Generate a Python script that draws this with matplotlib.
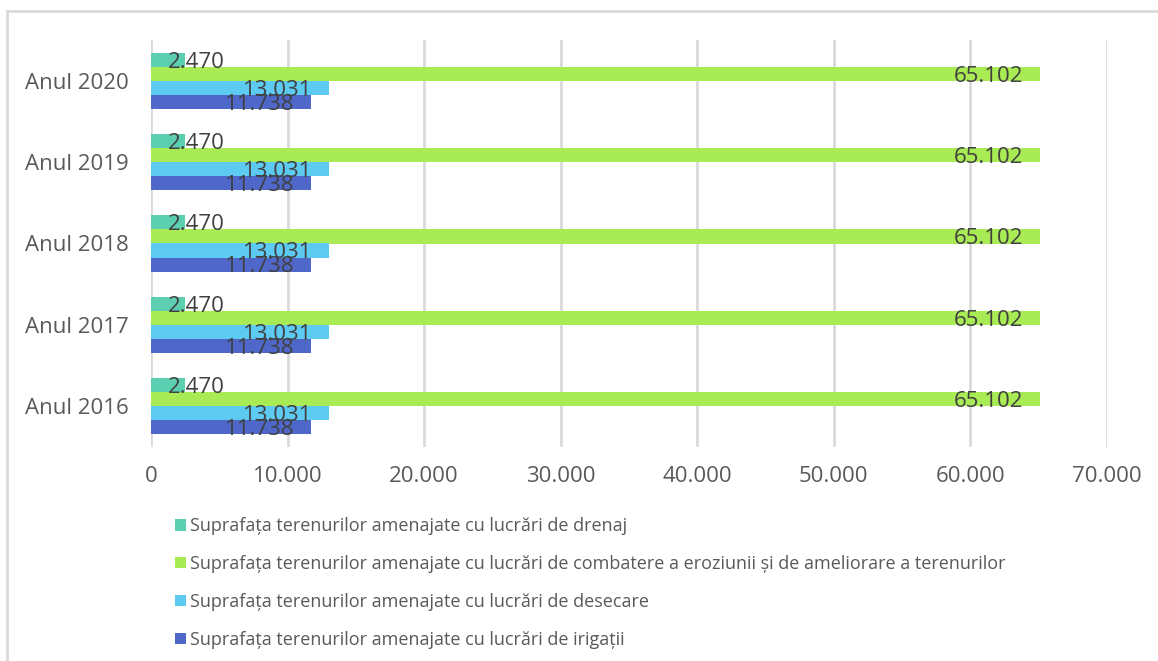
import numpy as np
import matplotlib.pyplot as plt
from matplotlib.lines import Line2D

plt.rcParams['font.family'] = ['Open Sans', 'DejaVu Sans']

# data
years = ["Anul 2016", "Anul 2017", "Anul 2018", "Anul 2019", "Anul 2020"]
drenaj = [2470, 2470, 2470, 2470, 2470]
combatere = [65102, 65102, 65102, 65102, 65102]
desecare = [13031, 13031, 13031, 13031, 13031]
irigatii = [11738, 11738, 11738, 11738, 11738]
series_names = [
    "Suprafața terenurilor amenajate cu lucrări de drenaj",
    "Suprafața terenurilor amenajate cu lucrări de combatere a eroziunii și de ameliorare a terenurilor",
    "Suprafața terenurilor amenajate cu lucrări de desecare",
    "Suprafața terenurilor amenajate cu lucrări de irigații",
]
colors = ["#5dcfb1", "#a8eb55", "#5dcaf2", "#4e67c8"]
xticks = [0, 10000, 20000, 30000, 40000, 50000, 60000, 70000]


def fmt(v):
    return f"{v:,}".replace(",", ".")


fig = plt.figure(figsize=(11.58, 6.61), dpi=100)
ax = fig.add_axes([151 / 1158, 1 - 447 / 661, (1107 - 151) / 1158, (447 - 40) / 661])

y = np.arange(len(years))
h = 0.172
offsets = [1.5 * h, 0.5 * h, -0.5 * h, -1.5 * h]
all_series = [drenaj, combatere, desecare, irigatii]

for vals, off, col, name in zip(all_series, offsets, colors, series_names):
    ax.barh(y + off, vals, height=h, color=col, label=name, zorder=3)
    for yi, v in zip(y, vals):
        # labels sit a touch below the bar centre, like in Excel
        ty = yi + off - 0.03
        if v < 5000:
            ax.text(1200, ty, fmt(v), ha='left', va='center',
                    fontsize=16, color='#404040', zorder=4)
        else:
            ax.text(v - 1250, ty, fmt(v), ha='right', va='center',
                    fontsize=16, color='#404040', zorder=4)

ax.set_xlim(0, 70000)
ax.set_ylim(-0.5, len(years) - 0.5)
ax.set_xticks(xticks)
ax.set_xticklabels([fmt(t) for t in xticks], fontsize=16, color='#595959')
ax.set_yticks(y)
ax.set_yticklabels(years, fontsize=16, color='#595959')
ax.tick_params(axis='both', length=0)
ax.tick_params(axis='x', pad=14)
ax.tick_params(axis='y', pad=16)
ax.grid(axis='x', color='#d9d9d9', linewidth=2, zorder=0)
for s in ax.spines.values():
    s.set_visible(False)

handles, labels = ax.get_legend_handles_labels()
fig.legend(handles, labels, loc='upper left', bbox_to_anchor=(168 / 1158, 1 - 510 / 661),
           frameon=False, ncol=1, fontsize=13, labelcolor='#595959',
           handlelength=0.6, handleheight=0.6, handletextpad=0.2, labelspacing=1.1,
           borderaxespad=0)

# light frame around the chart area
fig.add_artist(Line2D([7 / 1158, 1], [1 - 11 / 661, 1 - 11 / 661], color='#d9d9d9', lw=2))
fig.add_artist(Line2D([7 / 1158, 7 / 1158], [0, 1 - 11 / 661], color='#d9d9d9', lw=2))

fig.savefig("out.png", dpi=100)
